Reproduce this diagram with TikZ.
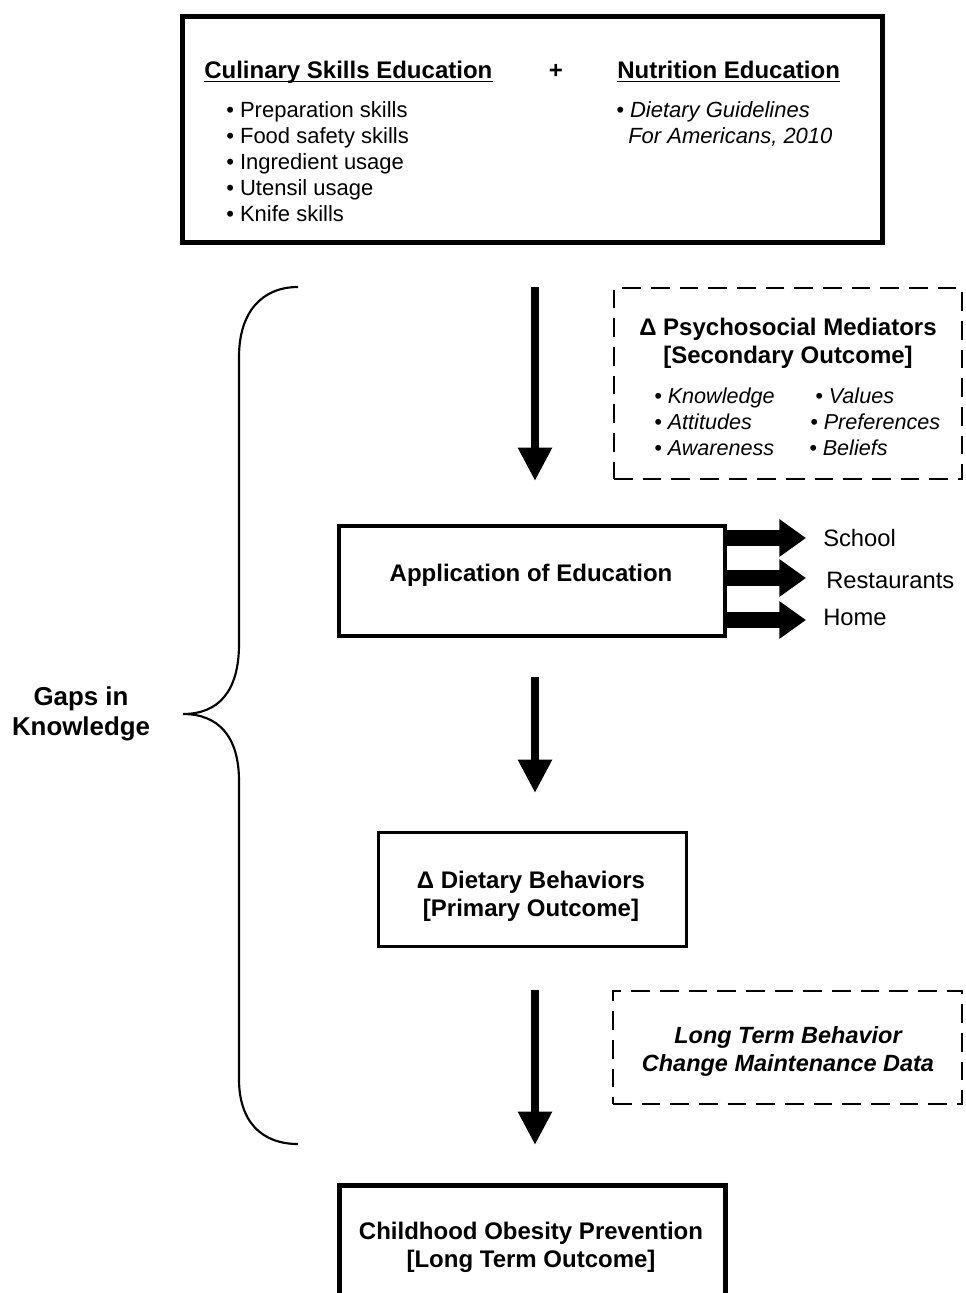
\documentclass[tikz,border=0pt]{standalone}
\usepackage{fontspec}
\setmainfont{Liberation Sans}
\usetikzlibrary{arrows.meta,calc,fit}
\tikzset{
  hd/.style={font=\fontsize{18}{20}\selectfont\bfseries, inner sep=0pt, anchor=base},
  hdw/.style={font=\fontsize{18}{20}\selectfont\bfseries, inner sep=0pt, anchor=base west},
  bl/.style={font=\fontsize{16.5}{18}\selectfont, inner sep=0pt, anchor=base west},
  bli/.style={font=\fontsize{16.5}{18}\selectfont\itshape, inner sep=0pt, anchor=base west},
  psy/.style={font=\fontsize{16.2}{18}\selectfont\itshape, inner sep=0pt, anchor=base west},
  side/.style={font=\fontsize{17.8}{20}\selectfont, inner sep=0pt, anchor=base west},
  lt/.style={font=\fontsize{17.6}{19}\selectfont\bfseries\itshape, inner sep=0pt, anchor=base},
  gap/.style={font=\fontsize{19.4}{21}\selectfont\bfseries, inner sep=0pt, anchor=base},
  downarr/.style={line width=6.5pt, -{Triangle[width=24pt,length=25pt]}},
  sidearr/.style={line width=11.5pt, -{Triangle[width=27pt,length=20pt]}},
  dbox/.style={draw, inner sep=0pt, line width=1.5pt, dash pattern=on 14pt off 7.5pt},
  ulin/.style={line width=1.3pt},
}
\begin{document}
\begin{tikzpicture}[x=0.75pt,y=-0.75pt]
\useasboundingbox (0,0) rectangle (965,1293);
\begin{scope}
\clip (0,0) rectangle (965,1293);

% top box
\node[fit={(182.5,16.5) (882.5,242.5)}, inner sep=0pt, draw, line width=3.75pt] (topbox) {};
\node[hdw] (cul) at (204,78) {Culinary Skills Education};
\draw[ulin] ([yshift=-2.6pt]cul.base west) -- ([yshift=-2.6pt]cul.base east);
\node[hd] (plus) at (556,78) {+};
\node[hdw] (nut) at (617,78) {Nutrition Education};
\draw[ulin] ([yshift=-2.6pt]nut.base west) -- ([yshift=-2.6pt]nut.base east);
\node[bl] (b1) at (226,117) {• Preparation skills};
\node[bl] (b2) at (226,143) {• Food safety skills};
\node[bl] (b3) at (226,169) {• Ingredient usage};
\node[bl] (b4) at (226,195) {• Utensil usage};
\node[bl] (b5) at (226,221) {• Knife skills};
\node[bli] (d1) at (616,117) {• Dietary Guidelines};
\node[bli] (d2) at (628,143) {For Americans, 2010};

% psychosocial dashed box
\node[dbox, fit={(614,288) (962,479)}] (psybox) {};
\node[hd] (p1) at (788,335) {Δ Psychosocial Mediators};
\node[hd] (p2) at (788,363) {[Secondary Outcome]};
\node[psy] (k1) at (654,403) {• Knowledge};
\node[psy] (k2) at (654,429) {• Attitudes};
\node[psy] (k3) at (654,455) {• Awareness};
\node[psy] (v1) at (815,403) {• Values};
\node[psy] (v2) at (810,429) {• Preferences};
\node[psy] (v3) at (809,455) {• Beliefs};

% arrow 1
\coordinate (a1s) at (535,287);
\coordinate (a1e) at (535,481);
\draw[downarr] (a1s) -- (a1e);

% application box
\node[fit={(339,526) (725,636)}, inner sep=0pt, draw, line width=3pt] (app) {};
\node[hd] (appt) at (531,581) {Application of Education};
\coordinate (s1s) at (727,538); \coordinate (s1e) at (806,538);
\coordinate (s2s) at (727,578); \coordinate (s2e) at (806,578);
\coordinate (s3s) at (727,620); \coordinate (s3e) at (806,620);
\draw[sidearr] (s1s) -- (s1e);
\draw[sidearr] (s2s) -- (s2e);
\draw[sidearr] (s3s) -- (s3e);
\node[side] (school) at (823,546) {School};
\node[side] (rest) at (826,588) {Restaurants};
\node[side] (home) at (823,625) {Home};

% arrow 2
\coordinate (a2s) at (535,677);
\coordinate (a2e) at (535,793);
\draw[downarr] (a2s) -- (a2e);

% dietary box
\node[fit={(378.5,832.5) (686.5,946.5)}, inner sep=0pt, draw, line width=2.3pt] (diet) {};
\node[hd] (dt1) at (531,888) {Δ Dietary Behaviors};
\node[hd] (dt2) at (531,916) {[Primary Outcome]};

% arrow 3
\coordinate (a3s) at (535,990);
\coordinate (a3e) at (535,1145);
\draw[downarr] (a3s) -- (a3e);

% long term dashed box
\node[dbox, fit={(613,991) (962,1104)}] (ltbox) {};
\node[lt] (lt1) at (788,1043) {Long Term Behavior};
\node[lt] (lt2) at (788,1071) {Change Maintenance Data};

% bottom box
\node[fit={(339.5,1185.5) (725.5,1330)}, inner sep=0pt, draw, line width=3.75pt] (obes) {};
\node[hd] (ob1) at (531,1239) {Childhood Obesity Prevention};
\node[hd] (ob2) at (531,1267) {[Long Term Outcome]};

% brace
\draw[line width=1.6pt] (298,287) .. controls (262,287) and (239,312) .. (239,357)
  -- (239,644) .. controls (239,692) and (218,714) .. (183,714)
  .. controls (218,714) and (239,736) .. (239,781)
  -- (239,1079) .. controls (239,1122) and (262,1144) .. (298,1144);
\node[gap] (g1) at (81,705) {Gaps in};
\node[gap] (g2) at (81,735) {Knowledge};
\end{scope}
\end{tikzpicture}
\end{document}
